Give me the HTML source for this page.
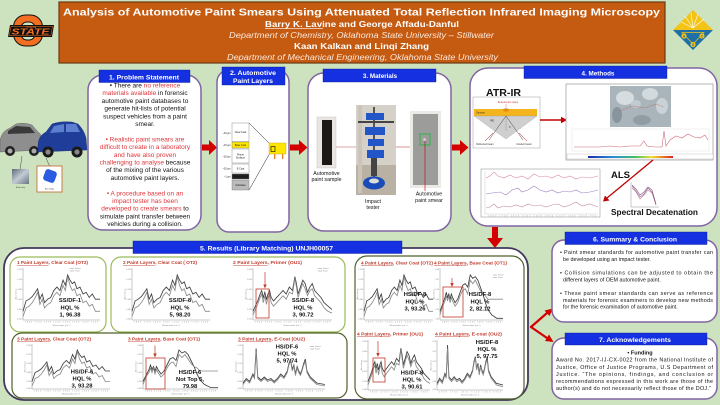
<!DOCTYPE html>
<html><head><meta charset="utf-8"><style>
html,body{margin:0;padding:0;background:#cde3bf;}
svg{display:block}
text{font-family:"Liberation Sans",Arial,sans-serif}
.ax{fill:none;stroke:#777;stroke-width:.4}
.tk{font-size:2px;fill:#888}
.sa{fill:none;stroke:#3e3e3e;stroke-width:.85;vector-effect:non-scaling-stroke}
.sb{fill:none;stroke:#8a8a8a;stroke-width:.85;vector-effect:non-scaling-stroke}
.lb{font-size:5.8px;font-weight:bold;fill:#111;text-anchor:middle}
.ct{font-size:4.5px;font-weight:bold;fill:#c0392b}
.b1{font-size:6.5px;fill:#111;text-anchor:middle}
.r{fill:#e0353b}
.tb{fill:#fff;font-weight:bold}
.sm{font-size:5.4px;fill:#111}
.cap{font-size:5.3px;fill:#111;text-anchor:middle}
.ly{font-size:2.4px;fill:#111;text-anchor:middle}
.ll{font-size:2.3px;fill:#111;text-anchor:end}
</style></head><body>
<svg width="720" height="405" viewBox="0 0 720 405" xmlns="http://www.w3.org/2000/svg">
<defs>
<path id="s1a" class="sa" d="M0,50 L4,38 8,36 12,33 16,28 19,24 22,36 25,30 28,40 32,36 36,34 40,26 44,22 48,26 52,14 55,20 58,8 61,14 64,18 67,16 70,24 74,22 78,30 82,28 86,34 90,30 94,36 100,36"/>
<path id="s1b" class="sb" d="M0,56 L4,46 8,44 12,40 16,34 19,28 22,42 25,36 28,46 32,42 36,40 40,32 44,28 48,32 52,20 55,26 58,10 61,20 64,26 67,24 70,32 74,30 78,40 82,38 86,44 90,42 94,50 100,50"/>
<path id="s2a" class="sa" d="M0,50 L3,44 6,38 9,30 11,26 13,34 15,28 17,36 19,30 21,26 23,34 26,38 30,34 34,30 38,26 42,30 46,22 50,26 53,10 55,18 57,30 60,22 63,14 66,18 69,28 72,22 75,18 78,26 82,30 86,34 90,40 95,44 100,48"/>
<path id="s2b" class="sb" d="M0,54 L3,48 6,42 9,34 11,30 13,40 15,32 17,42 19,34 21,30 23,40 26,44 30,40 34,36 38,32 42,36 46,28 50,30 53,12 55,22 57,34 60,26 63,18 66,24 69,32 72,26 75,24 78,32 82,36 86,40 90,46 95,50 100,52"/>
<path id="s3a" class="sa" d="M0,52 L4,46 8,50 12,40 14,44 16,6 18,44 22,48 26,44 30,48 34,46 38,50 42,46 46,40 50,44 54,36 56,26 58,20 60,34 62,28 64,40 66,30 68,36 70,40 72,34 74,26 76,20 78,36 82,44 86,48 90,52 100,54"/>
<path id="s3b" class="sb" d="M0,54 L4,48 8,52 12,42 14,46 16,10 18,46 22,50 26,46 30,50 34,48 38,52 42,48 46,42 50,46 54,38 56,28 58,22 60,36 62,30 64,42 66,32 68,38 70,42 72,36 74,28 76,24 78,38 82,46 86,50 90,54 100,56"/>
<path id="s4a" class="sa" d="M0,50 L4,42 8,34 10,28 12,34 14,30 16,36 18,30 20,34 24,40 28,36 32,28 36,20 40,18 44,22 48,8 52,12 56,10 60,14 64,22 68,30 72,40 76,48 82,54 90,58 100,58"/>
<path id="s4b" class="sb" d="M0,54 L4,44 8,38 10,32 12,38 14,32 16,40 18,34 20,38 24,44 28,40 32,32 36,26 40,24 44,30 48,14 52,18 56,14 60,20 64,26 68,30 72,32 76,36 82,36 90,36 100,36"/>
<linearGradient id="rb" x1="0" x2="1"><stop offset="0" stop-color="#1a2aa8"/><stop offset=".3" stop-color="#2a8fd8"/><stop offset=".55" stop-color="#3cc060"/><stop offset=".75" stop-color="#f0e030"/><stop offset="1" stop-color="#e02020"/></linearGradient>
<linearGradient id="gs" x1="0" y1="0" x2="1" y2="1"><stop offset="0" stop-color="#5e6a76"/><stop offset=".5" stop-color="#c3ccd4"/><stop offset="1" stop-color="#6a7480"/></linearGradient>
</defs>
<rect width="720" height="405" fill="#cde3bf"/>

<!-- HEADER -->
<rect x="59" y="2" width="606" height="61" fill="#c55a11" stroke="#6b3a14" stroke-width="1.2"/>
<text x="63" y="15.5" font-size="10.5" font-weight="bold" fill="#fff" textLength="597" lengthAdjust="spacingAndGlyphs">Analysis of Automotive Paint Smears Using Attenuated Total Reflection Infrared Imaging Microscopy</text>
<text x="265" y="27" font-size="8.3" font-weight="bold" fill="#fff" textLength="194" lengthAdjust="spacingAndGlyphs">Barry K. Lavine and George Affadu-Danful</text>
<line x1="265" y1="28.6" x2="323" y2="28.6" stroke="#fff" stroke-width=".6"/>
<text x="229" y="38" font-size="8" font-style="italic" fill="#fbe9dc" textLength="265" lengthAdjust="spacingAndGlyphs">Department of Chemistry, Oklahoma State University – Stillwater</text>
<text x="294" y="49" font-size="8.3" font-weight="bold" fill="#fff" textLength="135" lengthAdjust="spacingAndGlyphs">Kaan Kalkan and Linqi Zhang</text>
<text x="227" y="60" font-size="8" font-style="italic" fill="#fbe9dc" textLength="271" lengthAdjust="spacingAndGlyphs">Department of Mechanical Engineering, Oklahoma State University</text>

<!-- OSU logo -->
<rect x="13.5" y="15" width="29" height="31" rx="12" fill="#f26f21" stroke="#111" stroke-width="1"/>
<rect x="21" y="22" width="14" height="18" rx="6" fill="#cde3bf" stroke="#111" stroke-width="1"/>
<polygon points="10,25 54,25 52,37 8,37" fill="#111"/>
<polygon points="11,26.3 52.5,26.3 50.8,35.7 9.3,35.7" fill="none" stroke="#f26f21" stroke-width=".5"/>
<text x="30.5" y="34.6" font-size="8.5" font-weight="bold" font-style="italic" fill="#f26f21" text-anchor="middle" textLength="38" lengthAdjust="spacingAndGlyphs">STATE</text>
<text x="31" y="28" font-size="1.8" fill="#f26f21" text-anchor="middle">OKLAHOMA</text>

<!-- ACS logo -->
<polygon points="693,10 673,30 713,30" fill="#f3c316"/>
<g stroke="#fff" stroke-width=".6"><line x1="693" y1="28" x2="681" y2="22"/><line x1="693" y1="28" x2="685" y2="16"/><line x1="693" y1="28" x2="691" y2="13"/><line x1="693" y1="28" x2="698" y2="14"/><line x1="693" y1="28" x2="704" y2="19"/></g>
<polygon points="673,30 713,30 693,50" fill="#1f6fa8"/>
<polygon points="682,32.5 704,32.5 693,44" fill="none" stroke="#f3c316" stroke-width=".7"/>
<circle cx="684" cy="36" r="2.6" fill="#f3c316"/><circle cx="702" cy="36" r="2.6" fill="#f3c316"/><circle cx="693" cy="44.5" r="2.6" fill="#f3c316"/>
<text x="684" y="37.4" font-size="3.8" font-weight="bold" fill="#1f6fa8" text-anchor="middle">A</text>
<text x="702" y="37.4" font-size="3.8" font-weight="bold" fill="#1f6fa8" text-anchor="middle">C</text>
<text x="693" y="45.9" font-size="3.8" font-weight="bold" fill="#1f6fa8" text-anchor="middle">S</text>

<!-- CARS -->
<path d="M0,140 Q2,131 10,128 L16,124 Q24,122 32,125 L38,132 Q42,134 42,142 L42,150 L0,152 Z" fill="#8e8e8e" stroke="#555" stroke-width=".4"/>
<path d="M8,131 L16,126 L30,127 L35,133 L8,134 Z" fill="#3a3a3a"/>
<circle cx="10" cy="151" r="5" fill="#222"/><circle cx="10" cy="151" r="2.5" fill="#aaa"/>
<circle cx="34" cy="151" r="5" fill="#222"/><circle cx="34" cy="151" r="2.5" fill="#aaa"/>
<path d="M38,146 Q38,136 46,132 L52,124 Q60,121 72,122 L78,124 Q84,130 86,138 L87,150 L38,152 Z" fill="#1f3d99" stroke="#142a6e" stroke-width=".4"/>
<path d="M54,126 L64,124 L64,132 L50,133 Z" fill="#5c7fcf"/>
<path d="M66,124 L76,124 L80,132 L66,132 Z" fill="#5c7fcf"/>
<circle cx="48" cy="152" r="5.5" fill="#1a1a1a"/><circle cx="48" cy="152" r="2.6" fill="#888"/>
<circle cx="77" cy="152" r="5.5" fill="#1a1a1a"/><circle cx="77" cy="152" r="2.6" fill="#888"/>
<line x1="22" y1="156" x2="20" y2="170" stroke="#444" stroke-width=".5"/>
<line x1="46" y1="158" x2="50" y2="167" stroke="#444" stroke-width=".5"/>
<rect x="12" y="169" width="17" height="15" fill="url(#gs)"/>
<text x="20.5" y="188" font-size="1.8" fill="#333" text-anchor="middle">Nardo Grey</text>
<rect x="37" y="166" width="25" height="26" fill="#fff" stroke="#c0642a" stroke-width=".8"/>
<rect x="44" y="170" width="12" height="12" rx="3" fill="#2a5de0" transform="rotate(20 50 176)"/>
<text x="49.5" y="189.5" font-size="1.8" fill="#333" text-anchor="middle">Blue Indigo</text>

<!-- BOX 1 -->
<rect x="88" y="75" width="113" height="155" rx="15" fill="#fff" stroke="#8064a2" stroke-width="1.5"/>
<rect x="99" y="70" width="91" height="12.5" fill="#1430e0" stroke="#0b1c8c" stroke-width=".4"/>
<text x="109" y="79.3" class="tb" font-size="6.8" textLength="70" lengthAdjust="spacingAndGlyphs">1. Problem Statement</text>
<text class="b1" x="145" y="87.5">•  There are <tspan class="r">no reference</tspan></text>
<text class="b1" x="145" y="95.2"><tspan class="r">materials available</tspan> in forensic</text>
<text class="b1" x="145" y="102.9">automotive paint databases to</text>
<text class="b1" x="145" y="110.6">generate hit-lists of potential</text>
<text class="b1" x="145" y="118.3">suspect vehicles from a paint</text>
<text class="b1" x="145" y="126">smear.</text>
<text class="b1" x="145" y="141.4"><tspan class="r">•  Realistic paint smears are</tspan></text>
<text class="b1" x="145" y="149.1"><tspan class="r">difficult to create in a laboratory</tspan></text>
<text class="b1" x="145" y="156.8"><tspan class="r">and have also proven</tspan></text>
<text class="b1" x="145" y="164.5"><tspan class="r">challenging to analyse</tspan> because</text>
<text class="b1" x="145" y="172.2">of the mixing of the various</text>
<text class="b1" x="145" y="179.9">automotive paint layers.</text>
<text class="b1" x="145" y="195.3"><tspan class="r">•  A procedure based on an</tspan></text>
<text class="b1" x="145" y="203"><tspan class="r">impact tester has been</tspan></text>
<text class="b1" x="145" y="210.7"><tspan class="r">developed to create smears</tspan> to</text>
<text class="b1" x="145" y="218.4">simulate paint transfer between</text>
<text class="b1" x="145" y="226.1">vehicles during a collision.</text>

<!-- arrow 1->2 -->
<polygon points="202,144.5 209,144.5 209,140 217,147.5 209,155 209,150.5 202,150.5" fill="#d40000"/>

<!-- BOX 2 -->
<rect x="217" y="70" width="72" height="162" rx="12" fill="#fff" stroke="#8064a2" stroke-width="1.5"/>
<rect x="222" y="67" width="63" height="18" fill="#1430e0" stroke="#0b1c8c" stroke-width=".4"/>
<text x="230" y="75" class="tb" font-size="6.3" textLength="46" lengthAdjust="spacingAndGlyphs">2. Automotive</text>
<text x="233" y="83.2" class="tb" font-size="6.3" textLength="40" lengthAdjust="spacingAndGlyphs">Paint Layers</text>
<g stroke="#777" stroke-width=".4">
<rect x="232" y="123" width="17" height="18.5" fill="#fff"/>
<rect x="232" y="142" width="17" height="6" fill="#ffe600"/>
<rect x="232" y="149" width="17" height="14" fill="#fff"/>
<rect x="232" y="164" width="17" height="9" fill="#fff"/>
<rect x="232" y="174" width="17" height="5" fill="#222"/>
<rect x="232" y="180" width="17" height="10" fill="#bbb"/>
</g>
<text class="ly" x="240.5" y="133">Clear Coat</text>
<text class="ly" x="240.5" y="146" font-size="2.2">Base Coat</text>
<text class="ly" x="240.5" y="155.3">Primer</text>
<text class="ly" x="240.5" y="158.6">Surfacer</text>
<text class="ly" x="240.5" y="169.5">E-Coat</text>
<text class="ly" x="240.5" y="177.6" font-size="2" fill="#fff">Pretreatment</text>
<text class="ly" x="240.5" y="186">Substrate</text>
<text class="ll" x="230.5" y="134">~40 µm</text>
<text class="ll" x="230.5" y="146">~15 µm</text>
<text class="ll" x="230.5" y="157.5">~30 µm</text>
<text class="ll" x="230.5" y="169.5">~20 µm</text>
<text class="ll" x="230.5" y="177.5">~1 µm</text>
<line x1="249" y1="123" x2="270" y2="144" stroke="#222" stroke-width=".5"/>
<line x1="249" y1="190" x2="270" y2="153" stroke="#222" stroke-width=".5"/>
<rect x="269" y="143" width="17" height="11" fill="#ffe600" stroke="#c9a400" stroke-width=".4"/>
<rect x="271" y="146.5" width="4" height="5" fill="none" stroke="#000" stroke-width=".6"/>
<rect x="274" y="154" width="1.3" height="5" fill="#e67e22"/>
<rect x="282" y="154" width="1.3" height="5" fill="#e67e22"/>

<!-- arrow 2->3 -->
<polygon points="290,144.5 299,144.5 299,140 307.5,147.5 299,155 299,150.5 290,150.5" fill="#d40000"/>

<!-- BOX 3 -->
<rect x="308" y="73" width="143" height="158" rx="16" fill="#fff" stroke="#8064a2" stroke-width="1.5"/>
<rect x="323" y="69" width="113" height="13" fill="#1430e0" stroke="#0b1c8c" stroke-width=".4"/>
<text x="380" y="78.2" class="tb" font-size="6.3" text-anchor="middle">3. Materials</text>
<rect x="317" y="117" width="19" height="51" fill="#e9e6e2" stroke="#bbb" stroke-width=".4"/>
<rect x="322" y="120" width="10" height="45" fill="#1c1816"/>
<text class="cap" x="326.5" y="175">Automotive</text>
<text class="cap" x="326.5" y="181">paint sample</text>
<line x1="336" y1="147" x2="356" y2="147" stroke="#c05050" stroke-width=".6"/>
<rect x="356" y="105" width="40" height="90" fill="#d6d1c8"/>
<rect x="356" y="165" width="40" height="30" fill="#b9b1a4"/>
<rect x="358" y="105" width="4" height="88" fill="#cac4ba"/>
<rect x="373" y="107" width="2" height="70" fill="#555"/>
<rect x="358" y="121" width="36" height="2" fill="#444"/>
<rect x="366" y="113" width="18" height="7" fill="#2255c8"/>
<rect x="365" y="127" width="20" height="8" fill="#2255c8"/>
<rect x="368" y="139" width="16" height="7" fill="#2255c8"/>
<rect x="367" y="150" width="17" height="8" fill="#2255c8"/>
<rect x="371" y="158" width="6" height="18" fill="#444"/>
<ellipse cx="374" cy="183" rx="11" ry="6.5" fill="#1a4cb8"/>
<ellipse cx="374" cy="181" rx="5" ry="2.5" fill="#ddd"/>
<text class="cap" x="373" y="203">Impact</text>
<text class="cap" x="373" y="209">tester</text>
<line x1="396" y1="147" x2="410" y2="147" stroke="#c05050" stroke-width=".6"/>
<rect x="410" y="111" width="31" height="77" fill="#eceae6"/>
<rect x="413" y="114" width="25" height="71" fill="#9c9c9a"/>
<rect x="420" y="134" width="10" height="11" fill="none" stroke="#2bb34a" stroke-width="1"/>
<circle cx="424.5" cy="139.5" r="1.3" fill="#e8d0d0"/>
<line x1="425" y1="141" x2="425" y2="191" stroke="#c00000" stroke-width=".6"/>
<text class="cap" x="429" y="195.5">Automotive</text>
<text class="cap" x="429" y="201.8">paint smear</text>

<!-- arrow 3->4 -->
<polygon points="452,144.5 460,144.5 460,140 468.5,147.5 460,155 460,150.5 452,150.5" fill="#d40000"/>

<!-- BOX 4 -->
<rect x="470" y="68" width="247" height="158" rx="18" fill="#fff" stroke="#8064a2" stroke-width="1.5"/>
<rect x="524" y="66" width="143" height="12.5" fill="#1430e0" stroke="#0b1c8c" stroke-width=".4"/>
<text x="598" y="75.3" class="tb" font-size="6.3" text-anchor="middle">4. Methods</text>
<text x="486" y="96" font-size="10.5" font-weight="bold" fill="#111" textLength="35" lengthAdjust="spacingAndGlyphs">ATR-IR</text>
<rect x="473" y="97" width="67" height="51" fill="#fff" stroke="#999" stroke-width=".5"/>
<text x="508" y="103" font-size="2.6" fill="#d03030" text-anchor="middle">Evanescent wave</text>
<line x1="506" y1="104" x2="506" y2="109" stroke="#d03030" stroke-width=".3"/>
<rect x="474" y="109" width="63" height="7" fill="#f3b41e"/>
<ellipse cx="506" cy="110" rx="3" ry="1.6" fill="#e88a10"/>
<text x="476" y="113.6" font-size="2.6" fill="#333">Sample</text>
<polygon points="474,116 537,116 506,139" fill="#cfcfcf" stroke="#999" stroke-width=".3"/>
<text x="490" y="121.5" font-size="2.5" fill="#333">IRE</text>
<line x1="506" y1="116" x2="489" y2="140" stroke="#444" stroke-width=".5"/>
<line x1="506" y1="116" x2="523" y2="140" stroke="#444" stroke-width=".5"/>
<line x1="506" y1="116" x2="506" y2="131" stroke="#444" stroke-width=".3" stroke-dasharray="1 .6"/>
<text x="509" y="128" font-size="2.6" fill="#333">θ</text>
<line x1="493" y1="133" x2="485" y2="141" stroke="#c00000" stroke-width=".5"/>
<line x1="519" y1="133" x2="527" y2="141" stroke="#c00000" stroke-width=".5"/>
<text x="485" y="145" font-size="2.5" fill="#333" text-anchor="middle">Reflected beam</text>
<text x="524" y="145" font-size="2.5" fill="#333" text-anchor="middle">Incident beam</text>
<line x1="540" y1="120" x2="562" y2="120" stroke="#c00000" stroke-width="1.4"/>
<polygon points="561,116.8 567,120 561,123.2" fill="#c00000"/>
<rect x="566" y="84" width="147" height="76" fill="#fff" stroke="#888" stroke-width=".6"/>
<rect x="610" y="86" width="61" height="41" fill="#aab5bb"/>
<ellipse cx="625" cy="98" rx="9" ry="7" fill="#e8eef0" opacity=".7"/>
<ellipse cx="650" cy="94" rx="8" ry="6" fill="#e3e9ec" opacity=".7"/>
<ellipse cx="662" cy="106" rx="6" ry="8" fill="#dfe6e9" opacity=".6"/>
<ellipse cx="617" cy="115" rx="5" ry="8" fill="#7b878e" opacity=".7"/>
<ellipse cx="642" cy="120" rx="9" ry="5" fill="#86939a" opacity=".7"/>
<ellipse cx="636" cy="104" rx="5" ry="4" fill="#c7d0d5" opacity=".8"/>
<path d="M620,111 L632,106 645,108 656,104 664,107" fill="none" stroke="#c0392b" stroke-width=".5" stroke-dasharray=".8 .8"/>
<rect x="572" y="129" width="137" height="22" fill="none" stroke="#ccc" stroke-width=".3"/>
<path d="M574,147 L600,147 610,146 620,147 630,146 640,146 644,141 647,146 655,147 662,147 664,131 666,146 670,140 676,136 682,138 688,134 694,137 700,138 705,135 708,140" fill="none" stroke="#d06878" stroke-width=".6"/>
<rect x="567" y="154" width="146" height="5" fill="#fff" stroke="#999" stroke-width=".3"/>
<rect x="588" y="156" width="85" height="2" fill="url(#rb)"/>
<line x1="653" y1="160" x2="607" y2="198" stroke="#c00000" stroke-width="1.3"/>
<polygon points="603,201.5 605,195.5 609.5,200.5" fill="#c00000"/>
<text x="611" y="178" font-size="9.5" font-weight="bold" fill="#111" textLength="19" lengthAdjust="spacingAndGlyphs">ALS</text>
<path d="M631,182 V207 H659" fill="none" stroke="#777" stroke-width=".4"/>
<g fill="none" stroke-width=".6" opacity=".85">
<path d="M632,186 L636,191 640,197 644,194 648,188 652,192 656,205" stroke="#8a3b6b"/>
<path d="M632,188 L636,192 640,199 644,195 648,190 652,193 656,205" stroke="#b06a8a"/>
<path d="M632,185 L636,189 640,195 644,192 648,187 652,190 656,204" stroke="#5a3b6b"/>
</g>
<text x="611" y="215" font-size="8.3" font-weight="bold" fill="#111" textLength="87" lengthAdjust="spacingAndGlyphs">Spectral Decatenation</text>
<rect x="481" y="169" width="119" height="48" fill="#fff" stroke="#888" stroke-width=".5"/>
<path d="M485,171 V214 H598" fill="none" stroke="#aaa" stroke-width=".3"/>
<path d="M486,178 L490,176 494,172 498,176 504,178 510,175 516,178 522,176 528,179 534,174 540,177 546,176 552,178 558,175 564,178 570,176 576,179 582,177 590,178 598,176" fill="none" stroke="#d98ca0" stroke-width=".6"/>
<path d="M486,194 L492,193 500,192 506,195 512,190 518,188 522,192 528,190 534,186 540,190 546,192 552,190 558,193 564,191 570,192 576,190 582,193 590,192 598,190" fill="none" stroke="#9c7fc0" stroke-width=".6"/>
<path d="M486,208 L490,207 494,204 498,208 504,206 510,207 516,205 522,207 528,204 534,206 540,205 546,207 552,205 558,204 564,207 570,205 576,202 582,206 590,204 598,207" fill="none" stroke="#c48aa8" stroke-width=".6"/>
<text class="tk" x="488" y="216.3" textLength="108">1800 1700 1600 1500 1400 1300 1200 1100 1000 900</text>

<!-- down arrow -->
<polygon points="492,227 498,227 498,238 503,238 495,248 487,238 492,238" fill="#d40000"/>

<!-- BOX 5 -->
<rect x="4" y="248" width="524" height="152" rx="20" fill="#fff" stroke="#43385e" stroke-width="1.8"/>
<rect x="133" y="241" width="269" height="12.5" fill="#1430e0" stroke="#0b1c8c" stroke-width=".4"/>
<text x="200" y="250.5" class="tb" font-size="6.6" textLength="133" lengthAdjust="spacingAndGlyphs">5. Results (Library Matching) UNJH00057</text>

<rect x="10" y="257" width="96" height="75" rx="10" fill="#fff" stroke="#9bbb59" stroke-width="1.2"/>
<rect x="111" y="257" width="234" height="75" rx="10" fill="#fff" stroke="#9bbb59" stroke-width="1.2"/>
<rect x="12" y="333" width="335" height="65" rx="10" fill="#fff" stroke="#4f6228" stroke-width="1.2"/>
<rect x="355" y="256" width="169" height="143" rx="12" fill="#fff" stroke="#4f6228" stroke-width="1.2"/>

<!-- Chart A -->
<text class="ct" x="17" y="264" textLength="71" lengthAdjust="spacingAndGlyphs"><tspan text-decoration="underline">1 Paint Layers</tspan>, Clear Coat (OT2)</text>
<path d="M23 268V320H100" class="ax"/>
<text class="tk" text-anchor="end"><tspan x="22.2" y="270">0.120</tspan><tspan x="22.2" y="280">0.100</tspan><tspan x="22.2" y="290">0.080</tspan><tspan x="22.2" y="300">0.060</tspan><tspan x="22.2" y="310">0.040</tspan><tspan x="22.2" y="319.5">0.020</tspan></text>
<text class="tk" x="25" y="322.6" textLength="73">1800 1700 1600 1500 1400 1300 1200 1100</text>
<text class="tk" transform="translate(16.5 294) rotate(-90)" text-anchor="middle">Absorbance</text>
<text class="tk" x="61.5" y="325.8" text-anchor="middle">Wavenumber (cm⁻¹)</text>
<g transform="translate(23 268) scale(.77 .8667)"><use href="#s1a"/><use href="#s1b"/></g>
<path d="M70 268.5h4M70 271h4" stroke="#777" stroke-width=".4"/>
<text class="tk" x="75" y="269.2" font-size="1.8">Smear</text><text class="tk" x="75" y="271.7" font-size="1.8">Paint</text>
<text class="lb" x="70" y="302">SS/DF-1</text>
<text class="lb" x="70" y="309.3">HQL %</text>
<text class="lb" x="70" y="316.6">1, 96.38</text>

<!-- Chart B1 -->
<text class="ct" x="123" y="264" textLength="74" lengthAdjust="spacingAndGlyphs"><tspan text-decoration="underline">2 Paint Layers</tspan>, Clear Coat ( OT2)</text>
<path d="M132 268V320H210" class="ax"/>
<text class="tk" text-anchor="end"><tspan x="131.2" y="270">0.140</tspan><tspan x="131.2" y="280">0.120</tspan><tspan x="131.2" y="290">0.100</tspan><tspan x="131.2" y="300">0.080</tspan><tspan x="131.2" y="310">0.060</tspan><tspan x="131.2" y="319.5">0.040</tspan></text>
<text class="tk" x="134" y="322.6" textLength="74">1800 1700 1600 1500 1400 1300 1200 1100</text>
<text class="tk" transform="translate(125.5 294) rotate(-90)" text-anchor="middle">Absorbance</text>
<text class="tk" x="171" y="325.8" text-anchor="middle">Wavenumber (cm⁻¹)</text>
<g transform="translate(132 268) scale(.78 .8667)"><use href="#s1a"/><use href="#s1b"/></g>
<text class="lb" x="180" y="302">SS/DF-8</text>
<text class="lb" x="180" y="309.3">HQL %</text>
<text class="lb" x="180" y="316.6">5, 98.20</text>

<!-- Chart B2 -->
<text class="ct" x="233" y="264" textLength="69" lengthAdjust="spacingAndGlyphs"><tspan text-decoration="underline">2 Paint Layers</tspan>,  Primer (OU1)</text>
<path d="M253 268V320H332" class="ax"/>
<text class="tk" text-anchor="end"><tspan x="252.2" y="270">0.060</tspan><tspan x="252.2" y="280">0.050</tspan><tspan x="252.2" y="290">0.040</tspan><tspan x="252.2" y="300">0.030</tspan><tspan x="252.2" y="310">0.020</tspan><tspan x="252.2" y="319.5">0.010</tspan></text>
<text class="tk" x="255" y="322.6" textLength="75">1800 1700 1600 1500 1400 1300 1200 1100</text>
<text class="tk" transform="translate(246.5 294) rotate(-90)" text-anchor="middle">Absorbance</text>
<text class="tk" x="292.5" y="325.8" text-anchor="middle">Wavenumber (cm⁻¹)</text>
<g transform="translate(253 268) scale(.79 .8667)"><use href="#s2a"/><use href="#s2b"/></g>
<path d="M318 268.5h4M318 271h4" stroke="#777" stroke-width=".4"/>
<text class="tk" x="323" y="269.2" font-size="1.8">Smear</text><text class="tk" x="323" y="271.7" font-size="1.8">Paint</text>
<rect x="256" y="289" width="13" height="29" fill="none" stroke="#c0392b" stroke-width=".8"/>
<line x1="265" y1="272" x2="265" y2="285" stroke="#c0392b" stroke-width=".7"/>
<polygon points="263.3,284.5 266.7,284.5 265,288.5" fill="#c0392b"/>
<text class="lb" x="303" y="302">SS/DF-8</text>
<text class="lb" x="303" y="309.3">HQL %</text>
<text class="lb" x="303" y="316.6">3, 90.72</text>

<!-- Chart C1 -->
<text class="ct" x="17" y="340.5" textLength="74" lengthAdjust="spacingAndGlyphs"><tspan text-decoration="underline">3 Paint Layers</tspan>, Clear Coat (OT2)</text>
<path d="M32 344V389H110" class="ax"/>
<text class="tk" text-anchor="end"><tspan x="31.2" y="346">0.140</tspan><tspan x="31.2" y="355">0.120</tspan><tspan x="31.2" y="364">0.100</tspan><tspan x="31.2" y="373">0.080</tspan><tspan x="31.2" y="382">0.060</tspan><tspan x="31.2" y="389">0.040</tspan></text>
<text class="tk" x="34" y="391.6" textLength="74">1800 1700 1600 1500 1400 1300 1200 1100</text>
<text class="tk" transform="translate(25.5 366.5) rotate(-90)" text-anchor="middle">Absorbance</text>
<text class="tk" x="71" y="394.6" text-anchor="middle">Wavenumber (cm⁻¹)</text>
<g transform="translate(32 344) scale(.78 .75)"><use href="#s1a"/><use href="#s1b"/></g>
<text class="lb" x="82" y="373.5">HS/DF-6</text>
<text class="lb" x="82" y="380.5">HQL %</text>
<text class="lb" x="82" y="387.5">3, 93.28</text>

<!-- Chart C2 -->
<text class="ct" x="128" y="340.5" textLength="72" lengthAdjust="spacingAndGlyphs"><tspan text-decoration="underline">3 Paint Layers</tspan>,  Base Coat (OT1)</text>
<path d="M143 344V389H218" class="ax"/>
<text class="tk" text-anchor="end"><tspan x="142.2" y="346">0.080</tspan><tspan x="142.2" y="355">0.070</tspan><tspan x="142.2" y="364">0.060</tspan><tspan x="142.2" y="373">0.050</tspan><tspan x="142.2" y="382">0.040</tspan><tspan x="142.2" y="389">0.030</tspan></text>
<text class="tk" x="145" y="391.6" textLength="71">1800 1700 1600 1500 1400 1300 1200 1100</text>
<text class="tk" transform="translate(136.5 366.5) rotate(-90)" text-anchor="middle">Absorbance</text>
<text class="tk" x="180.5" y="394.6" text-anchor="middle">Wavenumber (cm⁻¹)</text>
<g transform="translate(143 344) scale(.75 .75)"><use href="#s4a"/><use href="#s4b"/></g>
<rect x="146" y="358" width="19" height="31" fill="none" stroke="#c0392b" stroke-width=".8"/>
<line x1="155" y1="345.5" x2="155" y2="354" stroke="#c0392b" stroke-width=".7"/>
<polygon points="153.3,353.5 156.7,353.5 155,357.5" fill="#c0392b"/>
<text class="lb" x="190" y="374">HS/DF-6</text>
<text class="lb" x="190" y="381">Not Top 5,</text>
<text class="lb" x="190" y="388">79.98</text>

<!-- Chart C3 -->
<text class="ct" x="238" y="340.5" textLength="67" lengthAdjust="spacingAndGlyphs"><tspan text-decoration="underline">3 Paint Layers</tspan>,  E-Coat (OU2)</text>
<path d="M243 344V389H325" class="ax"/>
<text class="tk" text-anchor="end"><tspan x="242.2" y="346">0.160</tspan><tspan x="242.2" y="355">0.140</tspan><tspan x="242.2" y="364">0.120</tspan><tspan x="242.2" y="373">0.100</tspan><tspan x="242.2" y="382">0.080</tspan><tspan x="242.2" y="389">0.060</tspan></text>
<text class="tk" x="245" y="391.6" textLength="78">1800 1700 1600 1500 1400 1300 1200 1100</text>
<text class="tk" transform="translate(236.5 366.5) rotate(-90)" text-anchor="middle">Absorbance</text>
<text class="tk" x="284" y="394.6" text-anchor="middle">Wavenumber (cm⁻¹)</text>
<g transform="translate(243 344) scale(.82 .75)"><use href="#s3a"/><use href="#s3b"/></g>
<path d="M310 346.5h4M310 349h4" stroke="#777" stroke-width=".4"/>
<text class="tk" x="315" y="347.2" font-size="1.8">Smear</text><text class="tk" x="315" y="349.7" font-size="1.8">Paint</text>
<text class="lb" x="287" y="348.5">HS/DF-6</text>
<text class="lb" x="287" y="355.5">HQL %</text>
<text class="lb" x="287" y="362.5">5, 97.74</text>

<!-- Chart D1 -->
<text class="ct" x="361" y="264.5" textLength="72" lengthAdjust="spacingAndGlyphs"><tspan text-decoration="underline">4 Paint Layers</tspan>, Clear Coat (OT2)</text>
<path d="M364 268V320H433" class="ax"/>
<text class="tk" text-anchor="end"><tspan x="363.2" y="270">0.140</tspan><tspan x="363.2" y="280">0.120</tspan><tspan x="363.2" y="290">0.100</tspan><tspan x="363.2" y="300">0.080</tspan><tspan x="363.2" y="310">0.060</tspan><tspan x="363.2" y="319.5">0.040</tspan></text>
<text class="tk" x="366" y="322.6" textLength="65">1800 1700 1600 1500 1400 1300 1200</text>
<text class="tk" transform="translate(357.8 294) rotate(-90)" text-anchor="middle">Absorbance</text>
<text class="tk" x="398.5" y="325.8" text-anchor="middle">Wavenumber (cm⁻¹)</text>
<g transform="translate(364 268) scale(.69 .8667)"><use href="#s1a"/><use href="#s1b"/></g>
<text class="lb" x="415" y="296">HS/DF-8</text>
<text class="lb" x="415" y="303.3">HQL %</text>
<text class="lb" x="415" y="310.6">3, 93.26</text>

<!-- Chart D2 -->
<text class="ct" x="434" y="264.5" textLength="73" lengthAdjust="spacingAndGlyphs"><tspan text-decoration="underline">4 Paint Layers</tspan>, Base Coat (OT1)</text>
<path d="M440 268V320H503" class="ax"/>
<text class="tk" text-anchor="end"><tspan x="439.2" y="270">0.08</tspan><tspan x="439.2" y="280">0.07</tspan><tspan x="439.2" y="290">0.06</tspan><tspan x="439.2" y="300">0.05</tspan><tspan x="439.2" y="310">0.04</tspan><tspan x="439.2" y="319.5">0.03</tspan></text>
<text class="tk" x="442" y="322.6" textLength="59">1800 1700 1600 1500 1400 1300 1200</text>
<text class="tk" transform="translate(434.5 294) rotate(-90)" text-anchor="middle">Absorbance</text>
<text class="tk" x="471.5" y="325.8" text-anchor="middle">Wavenumber (cm⁻¹)</text>
<g transform="translate(440 268) scale(.63 .8667)"><use href="#s4a"/><use href="#s4b"/></g>
<path d="M493 275h4M493 277.5h4" stroke="#777" stroke-width=".4"/>
<text class="tk" x="498" y="275.7" font-size="1.8">Smear</text><text class="tk" x="498" y="278.2" font-size="1.8">Paint</text>
<rect x="443" y="287" width="20" height="30" fill="none" stroke="#c0392b" stroke-width=".8"/>
<line x1="452" y1="278" x2="452" y2="283.5" stroke="#c0392b" stroke-width=".7"/>
<polygon points="450.3,283 453.7,283 452,287" fill="#c0392b"/>
<text class="lb" x="480" y="296">HS/DF-8</text>
<text class="lb" x="480" y="303.3">HQL %</text>
<text class="lb" x="480" y="310.6">2, 82.12</text>

<!-- Chart D3 -->
<text class="ct" x="357" y="335.5" textLength="66" lengthAdjust="spacingAndGlyphs"><tspan text-decoration="underline">4 Paint Layers</tspan>, Primer (OU1)</text>
<path d="M368 340V390H430" class="ax"/>
<text class="tk" text-anchor="end"><tspan x="367.2" y="342">0.050</tspan><tspan x="367.2" y="352">0.040</tspan><tspan x="367.2" y="362">0.030</tspan><tspan x="367.2" y="372">0.020</tspan><tspan x="367.2" y="382">0.010</tspan><tspan x="367.2" y="390">0.000</tspan></text>
<text class="tk" x="370" y="392.4" textLength="58">1800 1700 1600 1500 1400 1300</text>
<text class="tk" transform="translate(361.8 365) rotate(-90)" text-anchor="middle">Absorbance</text>
<text class="tk" x="399" y="395.3" text-anchor="middle">Wavenumber (cm⁻¹)</text>
<g transform="translate(368 340) scale(.62 .8333)"><use href="#s2a"/><use href="#s2b"/></g>
<rect x="373" y="358" width="12" height="24" fill="none" stroke="#c0392b" stroke-width=".8"/>
<line x1="378" y1="341" x2="378" y2="353.5" stroke="#c0392b" stroke-width=".7"/>
<polygon points="376.3,353 379.7,353 378,357" fill="#c0392b"/>
<text class="lb" x="412" y="374.5">HS/DF-8</text>
<text class="lb" x="412" y="381.5">HQL %</text>
<text class="lb" x="412" y="388.5">3, 90.61</text>

<!-- Chart D4 -->
<text class="ct" x="435" y="335.5" textLength="67" lengthAdjust="spacingAndGlyphs"><tspan text-decoration="underline">4 Paint Layers</tspan>, E-coat (OU2)</text>
<path d="M437 340V390H503" class="ax"/>
<text class="tk" text-anchor="end"><tspan x="436.2" y="342">0.16</tspan><tspan x="436.2" y="352">0.14</tspan><tspan x="436.2" y="362">0.12</tspan><tspan x="436.2" y="372">0.10</tspan><tspan x="436.2" y="382">0.08</tspan><tspan x="436.2" y="390">0.06</tspan></text>
<text class="tk" x="439" y="392.4" textLength="62">1800 1700 1600 1500 1400 1300</text>
<text class="tk" transform="translate(431.5 365) rotate(-90)" text-anchor="middle">Absorbance</text>
<text class="tk" x="470" y="395.3" text-anchor="middle">Wavenumber (cm⁻¹)</text>
<g transform="translate(437 340) scale(.66 .8333)"><use href="#s3a"/><use href="#s3b"/></g>
<text class="lb" x="487" y="344">HS/DF-8</text>
<text class="lb" x="487" y="351">HQL %</text>
<text class="lb" x="487" y="358">5, 97.75</text>

<!-- double arrow -->
<g stroke="#d40000" stroke-width="2.2" stroke-linecap="round">
<line x1="531" y1="327" x2="547" y2="313"/>
<line x1="531" y1="327" x2="547" y2="338"/>
</g>
<polygon points="553,308.5 544.5,310.5 549.5,316" fill="#d40000"/>
<polygon points="553.5,342 545,341 549,334.5" fill="#d40000"/>

<!-- BOX 6 -->
<rect x="552" y="240" width="165" height="82" rx="12" fill="#fff" stroke="#8064a2" stroke-width="1.5"/>
<rect x="565" y="232" width="142" height="12.5" fill="#1430e0" stroke="#0b1c8c" stroke-width=".4"/>
<text x="593" y="241.6" class="tb" font-size="6.4" textLength="84" lengthAdjust="spacingAndGlyphs">6. Summary &amp; Conclusion</text>
<text class="sm" x="560" y="254" textLength="153" lengthAdjust="spacing">• Paint smear standards for automotive paint transfer can</text>
<text class="sm" x="563" y="260.8">be developed using an impact tester.</text>
<text class="sm" x="560" y="274.5" textLength="153" lengthAdjust="spacing">• Collision simulations can be adjusted to obtain the</text>
<text class="sm" x="563" y="281.3">different layers of OEM automotive paint.</text>
<text class="sm" x="560" y="295" textLength="153" lengthAdjust="spacing">• These paint smear standards can serve as reference</text>
<text class="sm" x="563" y="301.8" textLength="150" lengthAdjust="spacing">materials for forensic examiners to develop new methods</text>
<text class="sm" x="563" y="308.6">for the forensic examination of automotive paint.</text>

<!-- BOX 7 -->
<rect x="552" y="338" width="165" height="61" rx="12" fill="#fff" stroke="#8064a2" stroke-width="1.5"/>
<rect x="565" y="333" width="142" height="12" fill="#1430e0" stroke="#0b1c8c" stroke-width=".4"/>
<text x="599" y="342" class="tb" font-size="6.4" textLength="72" lengthAdjust="spacingAndGlyphs">7. Acknowledgements</text>
<text x="640" y="354.5" font-size="5.5" font-weight="bold" fill="#111" text-anchor="middle">•   Funding</text>
<text class="sm" font-size="5.5" x="556" y="361.7" textLength="157" lengthAdjust="spacing">Award No. 2017-IJ-CX-0022 from the National Institute of</text>
<text class="sm" font-size="5.5" x="556" y="368.8" textLength="157" lengthAdjust="spacing">Justice, Office of Justice Programs, U.S Department of</text>
<text class="sm" font-size="5.5" x="556" y="375.9" textLength="157" lengthAdjust="spacing">Justice. “The opinions, findings, and conclusion or</text>
<text class="sm" font-size="5.5" x="556" y="383" textLength="157" lengthAdjust="spacing">recommendations expressed in this work are those of the</text>
<text class="sm" font-size="5.5" x="556" y="390.1" textLength="155" lengthAdjust="spacing">author(s) and do not necessarily reflect those of the DOJ.”</text>
</svg>
</body></html>
